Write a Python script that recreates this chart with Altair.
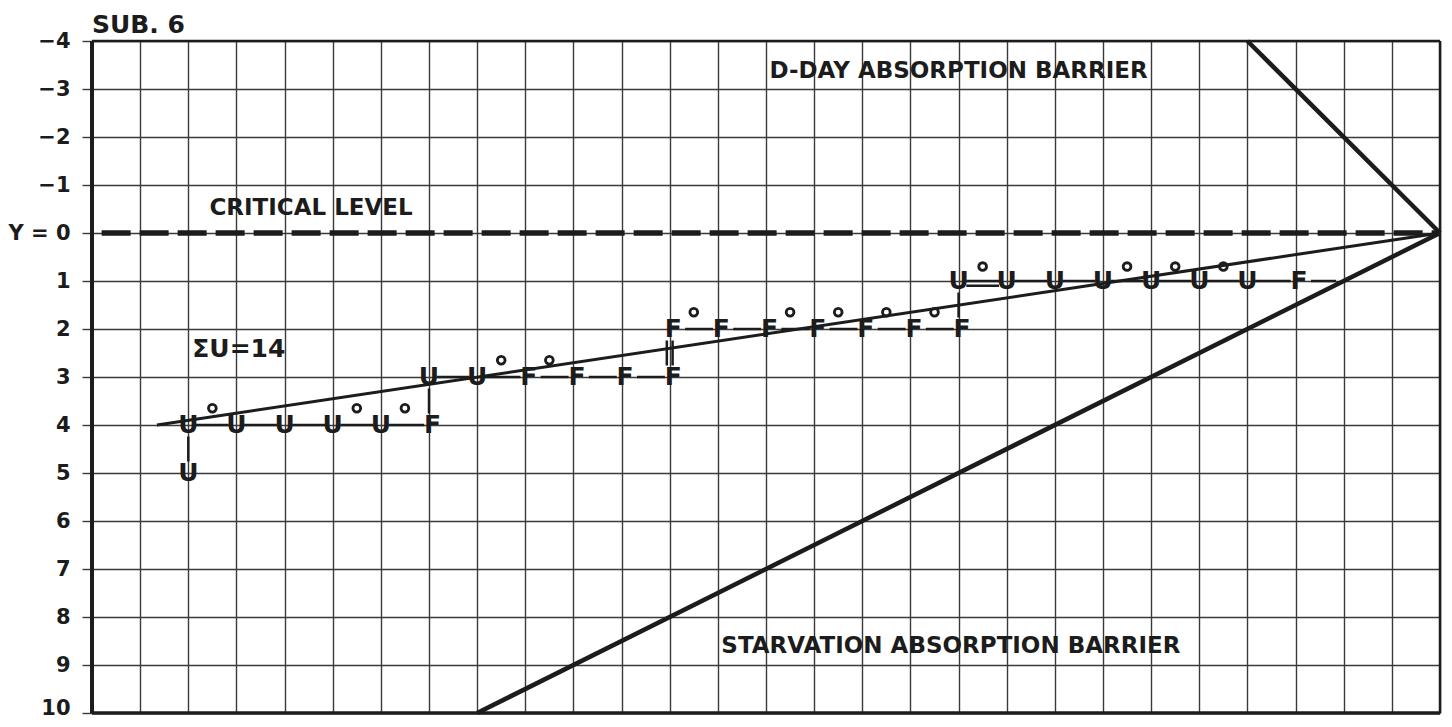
import altair as alt
import pandas as pd

# ---------------- data ----------------
y_ticks = list(range(-4, 11))
x_grid = list(range(0, 29))

# barriers and trend
dday_x = [24, 28]
dday_y = [-4, 0]
starv_x = [8, 28]
starv_y = [10, 0]
trend_x = [1.35, 28]
trend_y = [4, 0]
critical_x = [0.2, 28]
critical_y = [0, 0]

# the U / F process
u_x = [2, 2, 3, 4, 5, 6, 7, 8, 18, 19, 20, 21, 22, 23, 24]
u_y = [4, 5, 4, 4, 4, 4, 3, 3, 1, 1, 1, 1, 1, 1, 1]
f_x = [7, 9, 10, 11, 12, 12, 13, 14, 15, 16, 17, 18, 25]
f_y = [4, 3, 3, 3, 3, 2, 2, 2, 2, 2, 2, 2, 1]
circ_x = [2.5, 5.5, 6.5, 8.5, 9.5, 12.5, 14.5, 15.5, 16.5, 17.5, 18.5, 21.5, 22.5, 23.5]
circ_y = [3.65, 3.65, 3.65, 2.65, 2.65, 1.65, 1.65, 1.65, 1.65, 1.65, 0.7, 0.7, 0.7, 0.7]
row_y = [4, 3, 2, 1]
row_start = [2, 7, 12, 18]
row_end = [7, 12, 18, 26]
vert_x = [2, 7, 11.94, 12.06, 18]
vert_top = [4, 3, 2, 2, 1]
vert_bot = [5, 4, 3, 3, 2]
eq_x = [18]
eq_y = [1.1]

# texts
txt_label = ["CRITICAL LEVEL", "D-DAY ABSORPTION BARRIER", "STARVATION ABSORPTION BARRIER", "ΣU=14"]
txt_x = [4.55, 18.0, 17.84, 3.05]
txt_y = [-0.52, -3.38, 8.6, 2.42]
txt_size = [23, 23, 23, 25]
title_text = "SUB. 6"

INK = "#1c1c1c"
GRID = "#3a3a3a"
FONT = "DejaVu Sans"

# ---------------- tables ----------------
f_set = set(zip(f_x, f_y))
segs = []
for ry, rs, re in zip(row_y, row_start, row_end):
    for xi in range(rs, re):
        a = xi + (0.32 if (xi, ry) in f_set else 0.16)
        b = xi + 1 - (0.1 if (xi + 1, ry) in f_set else 0.16)
        segs.append({"x": a, "x2": b, "y": ry})
for ex, ey in zip(eq_x, eq_y):
    segs.append({"x": ex + 0.16, "x2": ex + 0.84, "y": ey})
seg_df = pd.DataFrame(segs)

vert_df = pd.DataFrame({"x": vert_x, "y": [t + 0.24 for t in vert_top], "y2": [b - 0.24 for b in vert_bot]})

def line_df(xs, ys):
    return pd.DataFrame({"x": xs, "y": ys})

xs = alt.Scale(domain=[0, 28], nice=False, zero=False)
ys = alt.Scale(domain=[-4, 10], reverse=True, nice=False, zero=False)

x_axis = alt.Axis(values=x_grid, grid=True, labels=False, ticks=False, domain=False, title=None,
                  gridColor=GRID, gridWidth=1.4, gridOpacity=1)
y_axis = alt.Axis(values=y_ticks, grid=True, title=None, domain=False,
                  tickSize=10, tickColor=GRID, tickWidth=1.4, labelPadding=12,
                  labelFont=FONT, labelFontSize=21, labelFontWeight="bold",
                  labelColor=INK, gridColor=GRID, gridWidth=1.4, gridOpacity=1,
                  labelOffset={"condition": {"test": "datum.value == 10", "value": -5}, "value": 0},
                  labelExpr="datum.value == 0 ? 'Y = 0' : datum.label")

X0 = alt.X("x:Q", scale=xs, axis=x_axis)
Y0 = alt.Y("y:Q", scale=ys, axis=y_axis)

border = alt.Chart(pd.DataFrame({"x": [0, 0, 0, 28], "x2": [0, 28, 28, 28], "y": [-4, 10, -4, -4],
                                 "y2": [10, 10, -4, 10], "w": [4, 3.5, 2.5, 2.5]})).mark_rule(color=INK).encode(
    x=X0, x2="x2:Q", y=Y0, y2="y2:Q", strokeWidth=alt.StrokeWidth("w:Q", scale=None))

critical = alt.Chart(line_df(critical_x, critical_y)).mark_line(
    color=INK, strokeWidth=5.5, strokeDash=[29, 9]).encode(x=X0, y=Y0)
dday = alt.Chart(line_df(dday_x, dday_y)).mark_line(color=INK, strokeWidth=4.5).encode(x=X0, y=Y0)
starv = alt.Chart(line_df(starv_x, starv_y)).mark_line(color=INK, strokeWidth=4.5).encode(x=X0, y=Y0)
trend = alt.Chart(line_df(trend_x, trend_y)).mark_line(color=INK, strokeWidth=3).encode(x=X0, y=Y0)

seg_layer = alt.Chart(seg_df).mark_rule(color=INK, strokeWidth=2.5).encode(x=X0, x2="x2:Q", y=Y0)
vert_layer = alt.Chart(vert_df).mark_rule(color=INK, strokeWidth=2.5).encode(x=X0, y=Y0, y2="y2:Q")

u_layer = alt.Chart(pd.DataFrame({"x": u_x, "y": u_y, "t": ["U"] * len(u_x)})).mark_text(
    font=FONT, fontSize=25, fontWeight="bold", color=INK, align="center", baseline="middle").encode(
    x=X0, y=Y0, text="t:N")
f_layer = alt.Chart(pd.DataFrame({"x": f_x, "y": f_y, "t": ["F"] * len(f_x)})).mark_text(
    font=FONT, fontSize=25, fontWeight="bold", color=INK, align="left", baseline="middle", dx=-5).encode(
    x=X0, y=Y0, text="t:N")
circ_layer = alt.Chart(pd.DataFrame({"x": circ_x, "y": circ_y})).mark_point(
    shape="circle", filled=False, size=60, strokeWidth=2.8, color=INK, opacity=1).encode(x=X0, y=Y0)

txt_layer = alt.Chart(pd.DataFrame({"x": txt_x, "y": txt_y, "t": txt_label, "s": txt_size})).mark_text(
    font=FONT, fontWeight="bold", color=INK, align="center", baseline="middle").encode(
    x=X0, y=Y0, text="t:N", size=alt.Size("s:Q", scale=None))

title_layer = alt.Chart(pd.DataFrame({"x": [0], "y": [-4.33], "t": [title_text]})).mark_text(
    font=FONT, fontWeight="bold", fontSize=25, color=INK, align="left", baseline="middle").encode(
    x=X0, y=Y0, text="t:N")

chart = alt.layer(
    critical, dday, starv, trend, seg_layer, vert_layer,
    u_layer, f_layer, circ_layer, txt_layer, title_layer, border
).properties(
    width=1348, height=672,
    autosize=alt.AutoSizeParams(type="none"),
    padding={"left": 84, "top": 33, "right": 4, "bottom": 6},
    background="white",
).configure_view(stroke=None)

chart.save("out.html", embed_options={"renderer": "svg", "actions": False})
